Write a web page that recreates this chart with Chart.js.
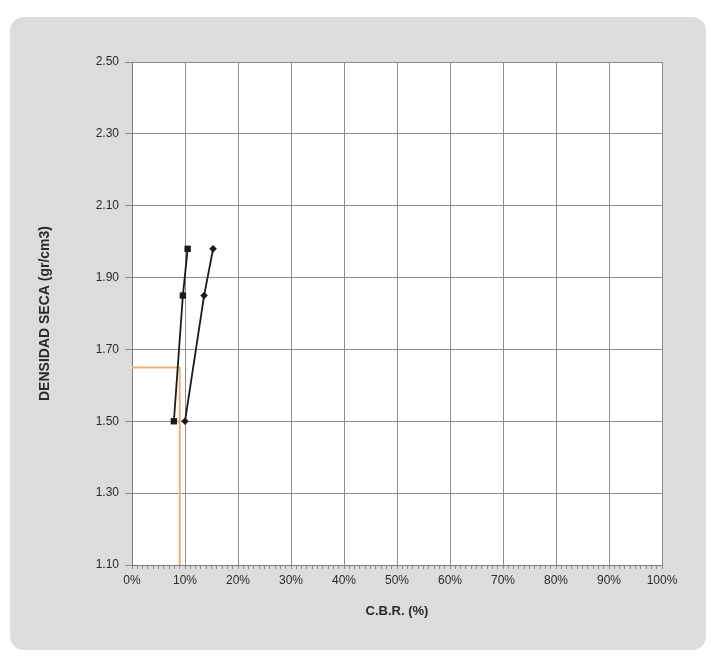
<!DOCTYPE html>
<html>
<head>
<meta charset="utf-8">
<script src="https://cdn.jsdelivr.net/npm/chart.js@4/dist/chart.umd.min.js"></script>
<style>
  html, body { margin: 0; padding: 0; background: #ffffff; }
  #wrap { width: 711px; height: 656px; }
</style>
</head>
<body>
<div id="wrap"><canvas id="c" width="711" height="656"></canvas></div>
<script>
// ---- data ----
const cbrSeriesA = [7.9, 9.6, 10.5];      // C.B.R. (%) - square markers
const densSeriesA = [1.50, 1.85, 1.98];   // dry density (gr/cm3)
const cbrSeriesB = [10.0, 13.6, 15.3];    // C.B.R. (%) - diamond markers
const densSeriesB = [1.50, 1.85, 1.98];
const cbrReference = [0, 9, 9];           // orange reference line
const densReference = [1.65, 1.65, 1.10];
const xTickValues = [0, 10, 20, 30, 40, 50, 60, 70, 80, 90, 100];
const yTickValues = [1.10, 1.30, 1.50, 1.70, 1.90, 2.10, 2.30, 2.50];
const xTitle = 'C.B.R. (%)';
const yTitle = 'DENSIDAD SECA (gr/cm3)';

function toPoints(xs, ys) { return xs.map((x, i) => ({ x: x, y: ys[i] })); }

const panelPlugin = {
  id: 'panel',
  beforeDraw(chart) {
    const ctx = chart.ctx;
    const a = chart.chartArea;
    ctx.save();
    ctx.fillStyle = '#ffffff';
    ctx.fillRect(0, 0, chart.width, chart.height);
    ctx.fillStyle = '#dcdcdc';
    ctx.beginPath();
    ctx.roundRect(10, 17, 696, 633, 14);
    ctx.fill();
    ctx.fillStyle = '#ffffff';
    ctx.fillRect(a.left, a.top, a.right - a.left, a.bottom - a.top);
    ctx.restore();
  }
};

const FONT = "'Liberation Sans', Arial, sans-serif";

new Chart(document.getElementById('c'), {
  type: 'scatter',
  data: {
    datasets: [
      {
        label: 'A',
        data: toPoints(cbrSeriesA, densSeriesA),
        showLine: true,
        borderColor: '#1a1a1a',
        backgroundColor: '#1a1a1a',
        borderWidth: 1.8,
        pointStyle: 'rect',
        pointRadius: 4.5,
        pointBorderWidth: 0,
        tension: 0
      },
      {
        label: 'B',
        data: toPoints(cbrSeriesB, densSeriesB),
        showLine: true,
        borderColor: '#1a1a1a',
        backgroundColor: '#1a1a1a',
        borderWidth: 1.8,
        pointStyle: 'rectRot',
        pointRadius: 3.8,
        pointBorderWidth: 0,
        tension: 0
      },
      {
        label: 'ref',
        data: toPoints(cbrReference, densReference),
        showLine: true,
        borderColor: '#e6b27a',
        backgroundColor: '#e6b27a',
        borderWidth: 2,
        pointRadius: 0,
        tension: 0
      }
    ]
  },
  options: {
    responsive: false,
    animation: false,
    layout: { padding: { top: 62, right: 49, left: 0, bottom: 0 } },
    plugins: {
      legend: { display: false },
      tooltip: { enabled: false }
    },
    scales: {
      x: {
        type: 'linear',
        min: 0,
        max: 100,
        afterFit(scale) { scale.height = 91; },
        afterBuildTicks(scale) {
          const t = [];
          for (let v = 0; v <= 100; v += 1) t.push({ value: v });
          scale.ticks = t;
        },
        grid: {
          color: (c) => (c.tick && c.tick.value % 10 === 0) ? '#8c8c8c' : 'rgba(0,0,0,0)',
          tickColor: '#8c8c8c',
          tickLength: 4,
          lineWidth: 1
        },
        border: { display: true, color: '#7a7a7a', width: 1 },
        ticks: {
          autoSkip: false,
          maxRotation: 0,
          padding: 4,
          color: '#2a2a2a',
          font: { family: FONT, size: 12 },
          callback: (v) => (xTickValues.includes(v) ? v + '%' : '')
        },
        title: {
          display: true,
          text: xTitle,
          color: '#2a2a2a',
          font: { family: FONT, size: 13, weight: 'bold' },
          padding: { top: 0, bottom: 37 }
        }
      },
      y: {
        type: 'linear',
        min: 1.10,
        max: 2.50,
        afterFit(scale) { scale.width = 132; },
        afterBuildTicks(scale) {
          scale.ticks = yTickValues.map(v => ({ value: v }));
        },
        grid: {
          color: '#8c8c8c',
          tickColor: '#8c8c8c',
          tickLength: 7,
          lineWidth: 1
        },
        border: { display: true, color: '#7a7a7a', width: 1 },
        ticks: {
          padding: 6,
          color: '#2a2a2a',
          font: { family: FONT, size: 12 },
          callback: (v) => Number(v).toFixed(2)
        },
        title: {
          display: true,
          text: yTitle,
          color: '#2a2a2a',
          font: { family: FONT, size: 14, weight: 'bold' },
          padding: { top: 37, bottom: 0 }
        }
      }
    }
  },
  plugins: [panelPlugin]
});
</script>
</body>
</html>
